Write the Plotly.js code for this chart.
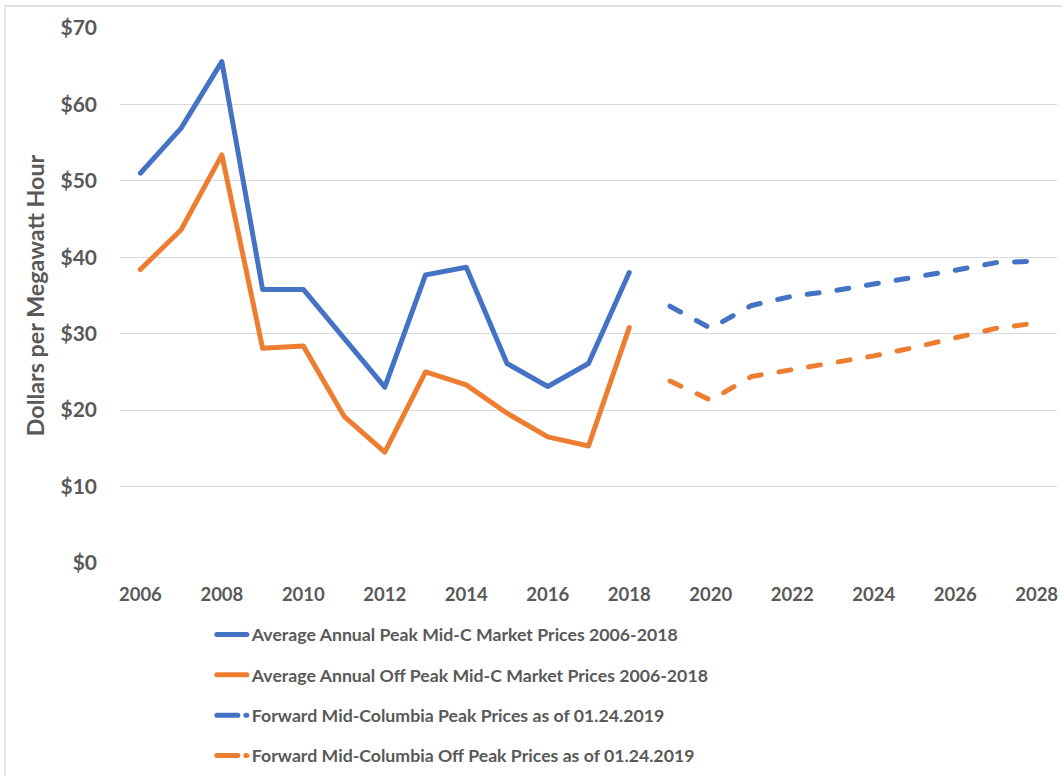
<!DOCTYPE html>
<html>
<head>
<meta charset="utf-8">
<script src="https://cdn.plot.ly/plotly-3.0.1.min.js"></script>
<style>
  html, body { margin: 0; padding: 0; background: #ffffff; }
  #chart { width: 1062px; height: 776px; }
  /* rounded ends on dashes and joints, as in the office-style line chart */
  .scatterlayer .js-line, .legend .legendlines path {
    stroke-linecap: round;
    stroke-linejoin: round;
  }
  /* legend swatches of the forward-curve series: a long dash followed by a short one */
  .legend .groups:nth-of-type(n+3) .legendlines path {
    stroke-dasharray: 21px, 8px !important;
  }
</style>
</head>
<body>
<div id="chart"></div>
<script>
// Historical annual averages
const yearsHist = [2006, 2007, 2008, 2009, 2010, 2011, 2012, 2013, 2014, 2015, 2016, 2017, 2018];
const peakHist = [51.0, 56.9, 65.6, 35.8, 35.8, 29.4, 23.0, 37.7, 38.7, 26.1, 23.1, 26.1, 38.0];
const offPeakHist = [38.4, 43.6, 53.4, 28.1, 28.4, 19.2, 14.5, 25.0, 23.3, 19.6, 16.5, 15.3, 30.8];

// Forward curve
const yearsFwd = [2019, 2020, 2021, 2022, 2023, 2024, 2025, 2026, 2027, 2028];
const peakFwd = [33.6, 30.7, 33.7, 34.9, 35.6, 36.5, 37.3, 38.3, 39.3, 39.5];
const offPeakFwd = [23.8, 21.3, 24.4, 25.3, 26.2, 27.1, 28.2, 29.4, 30.7, 31.4];

const seriesNames = [
  'Average Annual Peak Mid-C Market Prices 2006-2018',
  'Average Annual Off Peak Mid-C Market Prices 2006-2018',
  'Forward Mid-Columbia Peak Prices as of 01.24.2019',
  'Forward Mid-Columbia Off Peak Prices as of 01.24.2019'
];

const xTicks = [2006, 2008, 2010, 2012, 2014, 2016, 2018, 2020, 2022, 2024, 2026, 2028];
const yTicks = [0, 10, 20, 30, 40, 50, 60, 70];

const BLUE = '#4472C4';
const ORANGE = '#ED7D31';
const TEXT = '#595959';
const GRID = '#d9d9d9';
const FONT = 'Lato, "Open Sans", sans-serif';

const solid = (x, y, name, color, group) => ({
  x: x, y: y, name: name, type: 'scatter', mode: 'lines',
  legendgroup: group,
  line: { color: color, width: 5 },
  hoverinfo: 'x+y'
});
const dashed = (x, y, name, color, group) => ({
  x: x, y: y, name: name, type: 'scatter', mode: 'lines',
  legendgroup: group,
  line: { color: color, width: 5, dash: '12px,18px' },
  hoverinfo: 'x+y'
});

const data = [
  solid(yearsHist, peakHist, seriesNames[0], BLUE, 'a'),
  solid(yearsHist, offPeakHist, seriesNames[1], ORANGE, 'b'),
  dashed(yearsFwd, peakFwd, seriesNames[2], BLUE, 'c'),
  dashed(yearsFwd, offPeakFwd, seriesNames[3], ORANGE, 'd')
];

const layout = {
  width: 1062,
  height: 776,
  margin: { l: 120, r: 5, t: 28, b: 213, autoexpand: false },
  paper_bgcolor: '#ffffff',
  plot_bgcolor: '#ffffff',
  font: { family: FONT, color: TEXT, size: 18, weight: 'bold' },
  showlegend: true,
  legend: {
    x: 0.098, xanchor: 'left',
    y: -0.1, yanchor: 'top',
    orientation: 'v',
    traceorder: 'grouped',
    tracegroupgap: 14.3,
    font: { family: FONT, color: TEXT, size: 17.7, weight: 'bold' },
    bgcolor: 'rgba(0,0,0,0)'
  },
  xaxis: {
    range: [2005.5, 2028.5],
    tickmode: 'array',
    tickvals: xTicks,
    ticktext: xTicks.map(String),
    showgrid: false,
    zeroline: false,
    showline: false,
    ticks: '',
    ticklabelstandoff: 18,
    tickfont: { family: FONT, color: TEXT, size: 18.5, weight: 'bold' },
    fixedrange: true
  },
  yaxis: {
    range: [0, 70],
    tickmode: 'array',
    tickvals: yTicks,
    ticktext: yTicks.map(v => '$' + v),
    showgrid: true,
    gridcolor: GRID,
    gridwidth: 1.3,
    zeroline: false,
    showline: false,
    ticks: '',
    ticklabelstandoff: 22,
    tickfont: { family: FONT, color: TEXT, size: 21, weight: 'bold' },
    title: {
      text: 'Dollars per Megawatt Hour',
      font: { family: FONT, color: TEXT, size: 23.3, weight: 'bold' },
      standoff: 9
    },
    fixedrange: true
  },
  shapes: [
    // outer chart border
    {
      type: 'rect', xref: 'paper', yref: 'paper',
      x0: (5 - 120) / 937, x1: (1080 - 120) / 937,
      y0: -0.5, y1: 1 + (28 - 6) / 535.3,
      line: { color: GRID, width: 1.3 },
      fillcolor: 'rgba(0,0,0,0)',
      layer: 'below'
    }
  ]
};

Plotly.newPlot('chart', data, layout, { displayModeBar: false });
</script>
</body>
</html>
